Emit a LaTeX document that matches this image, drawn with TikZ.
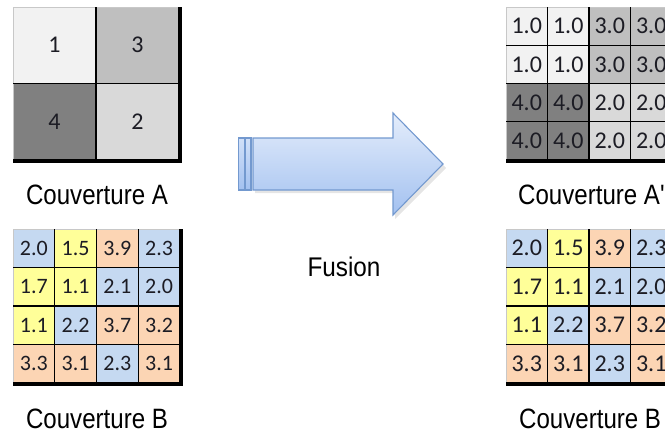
\documentclass[tikz,border=0pt]{standalone}
\usepackage{fontspec}
\setmainfont{Liberation Sans}
\newfontfamily\cellfont{Carlito}
\newfontfamily\labfont[FakeStretch=0.86]{Liberation Sans}
\newfontfamily\fusfont[FakeStretch=0.9]{Liberation Sans}
\definecolor{gA}{HTML}{F2F2F2}
\definecolor{gB}{HTML}{BFBFBF}
\definecolor{gC}{HTML}{808080}
\definecolor{gD}{HTML}{D9D9D9}
\definecolor{cB}{HTML}{C5D9F1}
\definecolor{cY}{HTML}{FFFF99}
\definecolor{cO}{HTML}{FCD5B4}
\definecolor{txt}{HTML}{1C1C24}
\definecolor{arrTop}{HTML}{E4EDFB}
\definecolor{arrBot}{HTML}{A3C1F0}
\definecolor{arrLine}{HTML}{7399CF}
\definecolor{edge}{HTML}{C8C8C8}
\tikzset{
  cell/.style={inner sep=0pt, outer sep=0pt, text=txt},
  lab/.style={inner sep=0pt, font=\labfont\fontsize{28}{30}\selectfont},
  inner/.style={black, line width=1.1pt},
  outerthick/.style={black, line width=3.5pt},
  outerthin/.style={edge, line width=0.8pt},
}
% #1 name, #2 x0, #3 y0, #4 w, #5 h, #6 n, #7 font size, #8 list r/c/fill/value
\newcommand\mkgrid[8]{%
  \foreach \r/\c/\f/\v in {#8}{%
    \node[cell, fill=\f, minimum width=#4pt, minimum height=#5pt,
      font=\cellfont\fontsize{#7}{#7}\selectfont]
      (#1-\r-\c) at ({#2+(\c-0.5)*#4},{#3+(\r-0.5)*#5}) {\v};
  }%
  \draw[outerthin] (#2,#3+#6*#5) -- (#2,#3) -- (#2+#6*#4,#3);
  \foreach \k in {1,...,\numexpr#6-1\relax}{%
    \draw[inner] ({#2+\k*#4},#3) -- ({#2+\k*#4},{#3+#6*#5});
    \draw[inner] (#2,{#3+\k*#5}) -- ({#2+#6*#4},{#3+\k*#5});
  }%
  \draw[outerthick] ({#2+#6*#4+1},#3) -- ({#2+#6*#4+1},{#3+#6*#5+1.75});
  \draw[outerthick] (#2,{#3+#6*#5+1}) -- ({#2+#6*#4+2.75},{#3+#6*#5+1});
}
\begin{document}
\begin{tikzpicture}[x=1pt,y=-1pt]
\useasboundingbox (0,0) rectangle (665,434);
\clip (0,0) rectangle (665,434);

% Couverture A
\mkgrid{A}{13}{7}{83}{76.5}{2}{24}{1/1/gA/1, 1/2/gB/3, 2/1/gC/4, 2/2/gD/2}

% Couverture B (left)
\mkgrid{B}{13}{229}{41.75}{38.5}{4}{22}{%
  1/1/cB/2.0, 1/2/cY/1.5, 1/3/cO/3.9, 1/4/cB/2.3,
  2/1/cY/1.7, 2/2/cY/1.1, 2/3/cB/2.1, 2/4/cB/2.0,
  3/1/cY/1.1, 3/2/cB/2.2, 3/3/cO/3.7, 3/4/cO/3.2,
  4/1/cO/3.3, 4/2/cO/3.1, 4/3/cB/2.3, 4/4/cO/3.1}

% Couverture A'
\mkgrid{Ap}{506}{7}{41.5}{38.25}{4}{24}{%
  1/1/gA/1.0, 1/2/gA/1.0, 1/3/gB/3.0, 1/4/gB/3.0,
  2/1/gA/1.0, 2/2/gA/1.0, 2/3/gB/3.0, 2/4/gB/3.0,
  3/1/gC/4.0, 3/2/gC/4.0, 3/3/gD/2.0, 3/4/gD/2.0,
  4/1/gC/4.0, 4/2/gC/4.0, 4/3/gD/2.0, 4/4/gD/2.0}

% Couverture B (right)
\mkgrid{Bp}{506}{229}{41.5}{38.5}{4}{24}{%
  1/1/cB/2.0, 1/2/cY/1.5, 1/3/cO/3.9, 1/4/cB/2.3,
  2/1/cY/1.7, 2/2/cY/1.1, 2/3/cB/2.1, 2/4/cB/2.0,
  3/1/cY/1.1, 3/2/cB/2.2, 3/3/cO/3.7, 3/4/cO/3.2,
  4/1/cO/3.3, 4/2/cO/3.1, 4/3/cB/2.3, 4/4/cO/3.1}

% labels
\node[lab, anchor=base] (labA) at (97,204) {Couverture A};
\node[lab, anchor=base] (labB) at (97,428) {Couverture B};
\node[lab, anchor=base west] (labAp) at (518,204) {Couverture A'};
\node[lab, anchor=base west] (labBp) at (519,428) {Couverture B};
\node[inner sep=0pt, anchor=base, font=\fusfont\fontsize{27}{29}\selectfont] (fus) at (344,276) {Fusion};

% arrow
\fill[black!10] (255,141) -- (395,141) -- (395,116) -- (446,168) -- (395,219) -- (395,193) -- (255,193) -- cycle;
\draw[arrLine, line width=1.1pt, top color=arrTop, bottom color=arrBot]
  (253,138) -- (393,138) -- (393,113) -- (443,164) -- (393,215) -- (393,190) -- (253,190) -- cycle;
\draw[arrLine, line width=1.1pt, top color=arrTop!70!arrBot, bottom color=arrBot] (238.5,138) rectangle (244.5,190);
\draw[arrLine, line width=1.1pt, top color=arrTop!70!arrBot, bottom color=arrBot] (245,138) rectangle (251,190);
\end{tikzpicture}
\end{document}
